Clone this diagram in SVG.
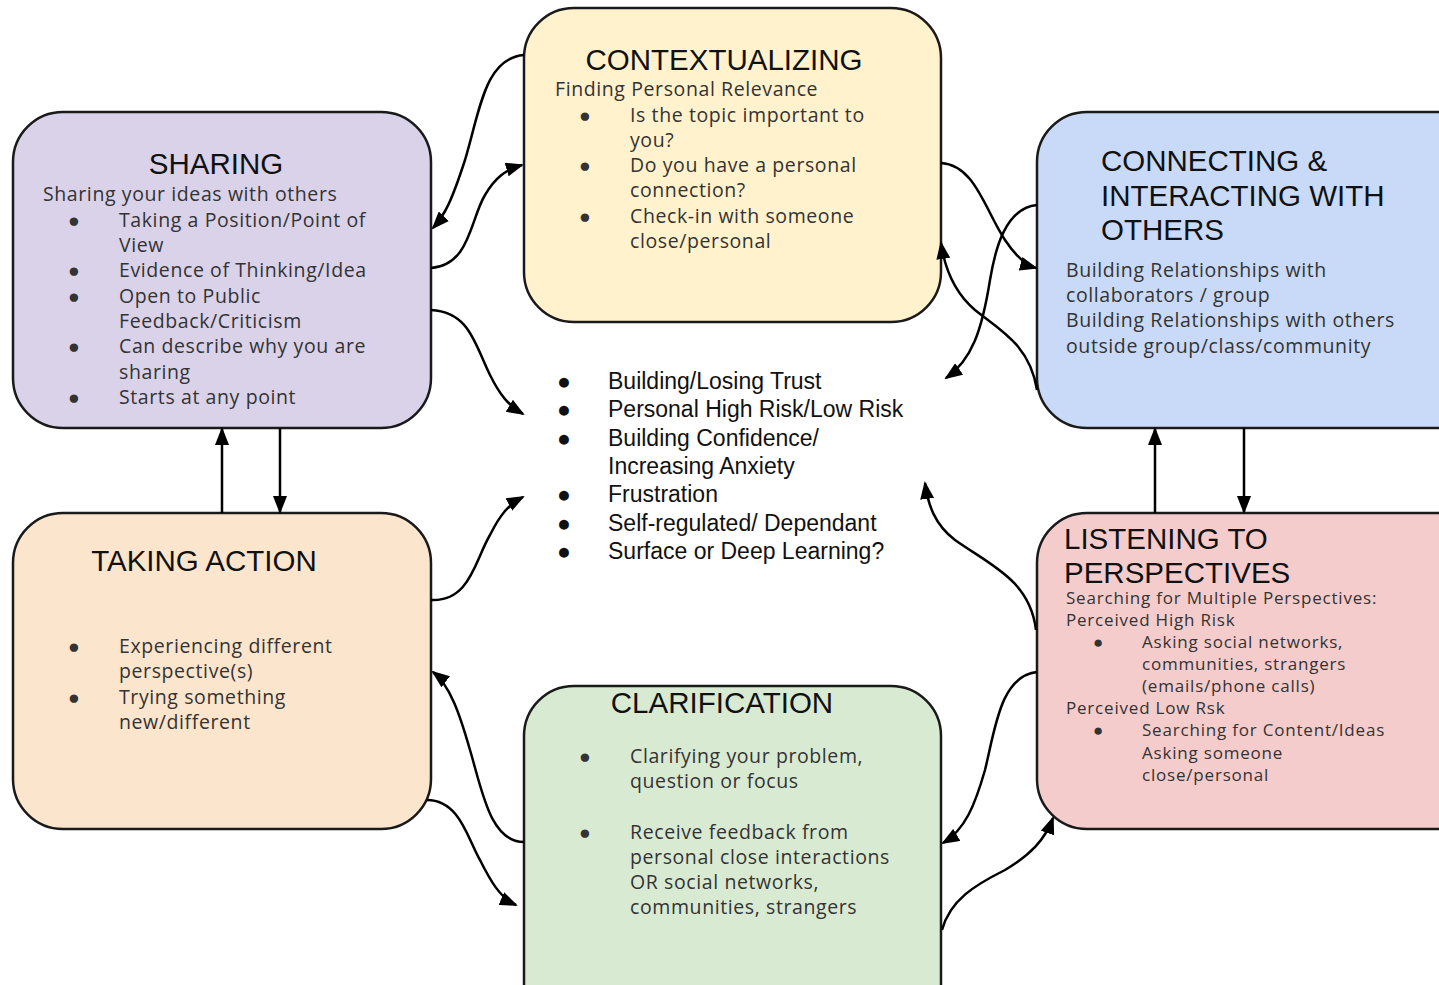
<svg xmlns="http://www.w3.org/2000/svg" width="1439" height="985" viewBox="0 0 1439 985">
<defs>
<marker id="ah" markerUnits="userSpaceOnUse" markerWidth="18" markerHeight="14" refX="16" refY="7" orient="auto">
<path d="M0,0 L18,7 L0,14 Z" fill="#000"/>
</marker>
<style>
.box{stroke:#1a1a1a;stroke-width:2.5}
.title{font-family:"Liberation Sans",Arial,sans-serif;font-size:29.5px;fill:#111}
.body{font-family:"Open Sans","Liberation Sans",sans-serif;font-size:19.5px;letter-spacing:0.6px;fill:#333}
.small{font-family:"Open Sans","Liberation Sans",sans-serif;font-size:17px;letter-spacing:0.8px;fill:#333}
.center{font-family:"Liberation Sans",Arial,sans-serif;font-size:23px;fill:#111}
.conn{fill:none;stroke:#000;stroke-width:2.5;marker-end:url(#ah)}
</style>
</defs>
<rect width="1439" height="985" fill="#fff"/>

<g id="sharing">
<rect class="box" x="13" y="112" width="418" height="316" rx="50" fill="#d9d2e9"/>
<text class="title" x="216" y="174" text-anchor="middle">SHARING</text>
<text class="body" x="43" y="201">Sharing your ideas with others</text>
<text class="body" x="68" y="227">●</text><text class="body" x="119" y="227">Taking a Position/Point of</text>
<text class="body" x="119" y="252">View</text>
<text class="body" x="68" y="277">●</text><text class="body" x="119" y="277">Evidence of Thinking/Idea</text>
<text class="body" x="68" y="303">●</text><text class="body" x="119" y="303">Open to Public</text>
<text class="body" x="119" y="328">Feedback/Criticism</text>
<text class="body" x="68" y="353">●</text><text class="body" x="119" y="353">Can describe why you are</text>
<text class="body" x="119" y="379">sharing</text>
<text class="body" x="68" y="404">●</text><text class="body" x="119" y="404">Starts at any point</text>
</g>

<g id="contextualizing">
<rect class="box" x="524" y="8" width="417" height="314" rx="50" fill="#fff2cc"/>
<text class="title" x="724" y="70" text-anchor="middle">CONTEXTUALIZING</text>
<text class="body" x="555" y="96">Finding Personal Relevance</text>
<text class="body" x="579" y="122">●</text><text class="body" x="630" y="122">Is the topic important to</text>
<text class="body" x="630" y="147">you?</text>
<text class="body" x="579" y="172">●</text><text class="body" x="630" y="172">Do you have a personal</text>
<text class="body" x="630" y="197">connection?</text>
<text class="body" x="579" y="223">●</text><text class="body" x="630" y="223">Check-in with someone</text>
<text class="body" x="630" y="248">close/personal</text>
</g>

<g id="connecting">
<rect class="box" x="1037" y="112" width="460" height="316" rx="50" fill="#c9daf8"/>
<text class="title" x="1101" y="171">CONNECTING &amp;</text>
<text class="title" x="1101" y="206">INTERACTING WITH</text>
<text class="title" x="1101" y="240">OTHERS</text>
<text class="body" x="1066" y="277">Building Relationships with</text>
<text class="body" x="1066" y="302">collaborators / group</text>
<text class="body" x="1066" y="327">Building Relationships with others</text>
<text class="body" x="1066" y="353">outside group/class/community</text>
</g>

<g id="taking-action">
<rect class="box" x="13" y="513" width="418" height="316" rx="50" fill="#fce5cd"/>
<text class="title" x="204" y="571" text-anchor="middle">TAKING ACTION</text>
<text class="body" x="68" y="653">●</text><text class="body" x="119" y="653">Experiencing different</text>
<text class="body" x="119" y="678">perspective(s)</text>
<text class="body" x="68" y="704">●</text><text class="body" x="119" y="704">Trying something</text>
<text class="body" x="119" y="729">new/different</text>
</g>

<g id="clarification">
<rect class="box" x="524" y="686" width="417" height="360" rx="50" fill="#d9ead3"/>
<text class="title" x="722" y="713" text-anchor="middle">CLARIFICATION</text>
<text class="body" x="579" y="763">●</text><text class="body" x="630" y="763">Clarifying your problem,</text>
<text class="body" x="630" y="788">question or focus</text>
<text class="body" x="579" y="839">●</text><text class="body" x="630" y="839">Receive feedback from</text>
<text class="body" x="630" y="864">personal close interactions</text>
<text class="body" x="630" y="889">OR social networks,</text>
<text class="body" x="630" y="914">communities, strangers</text>
</g>

<g id="listening">
<rect class="box" x="1037" y="513" width="460" height="316" rx="50" fill="#f4cccc"/>
<text class="title" x="1064" y="549">LISTENING TO</text>
<text class="title" x="1064" y="583">PERSPECTIVES</text>
<text class="small" x="1066" y="604">Searching for Multiple Perspectives:</text>
<text class="small" x="1066" y="626">Perceived High  Risk</text>
<text class="small" x="1093" y="648">●</text><text class="small" x="1142" y="648">Asking social networks,</text>
<text class="small" x="1142" y="670">communities, strangers</text>
<text class="small" x="1142" y="692">(emails/phone calls)</text>
<text class="small" x="1066" y="714">Perceived Low Rsk</text>
<text class="small" x="1093" y="736">●</text><text class="small" x="1142" y="736">Searching for Content/Ideas</text>
<text class="small" x="1142" y="759">Asking someone</text>
<text class="small" x="1142" y="781">close/personal</text>
</g>

<g id="center-notes">
<text class="center" x="557" y="389">●</text><text class="center" x="608" y="389">Building/Losing Trust</text>
<text class="center" x="557" y="417">●</text><text class="center" x="608" y="417">Personal High Risk/Low Risk</text>
<text class="center" x="557" y="446">●</text><text class="center" x="608" y="446">Building Confidence/</text>
<text class="center" x="608" y="474">Increasing Anxiety</text>
<text class="center" x="557" y="502">●</text><text class="center" x="608" y="502">Frustration</text>
<text class="center" x="557" y="531">●</text><text class="center" x="608" y="531">Self-regulated/ Dependant</text>
<text class="center" x="557" y="559">●</text><text class="center" x="608" y="559">Surface or Deep Learning?</text>
</g>

<g id="connectors">
<path class="conn" d="M524,55 C485,58 480,110 465,160 C452,200 445,215 433,228"/>
<path class="conn" d="M431,268 C470,265 470,220 485,195 C495,178 505,170 522,165"/>
<path class="conn" d="M431,310 C470,312 475,345 490,375 C500,395 508,405 523,414"/>
<path class="conn" d="M280,428 L280,512"/>
<path class="conn" d="M222,513 L222,429"/>
<path class="conn" d="M431,600 C470,602 475,560 490,535 C500,515 508,505 523,497"/>
<path class="conn" d="M524,842 C490,842 482,790 470,750 C460,715 450,685 433,672"/>
<path class="conn" d="M427,800 C460,800 468,840 480,860 C490,880 500,898 516,905"/>
<path class="conn" d="M1037,672 C1000,676 995,730 985,770 C975,805 965,830 943,843"/>
<path class="conn" d="M942,930 C950,900 975,885 1005,870 C1030,855 1045,840 1053,818"/>
<path class="conn" d="M1036,630 C1030,580 990,565 955,540 C935,525 928,505 925,483"/>
<path class="conn" d="M1155,513 L1155,429"/>
<path class="conn" d="M1244,428 L1244,512"/>
<path class="conn" d="M941,163 C975,165 985,210 1005,240 C1015,255 1025,265 1036,268"/>
<path class="conn" d="M1037,205 C1005,208 995,250 990,280 C982,330 972,360 946,378"/>
<path class="conn" d="M1037,390 C1030,345 1000,330 975,310 C955,293 945,270 941,243"/>
</g>
</svg>
